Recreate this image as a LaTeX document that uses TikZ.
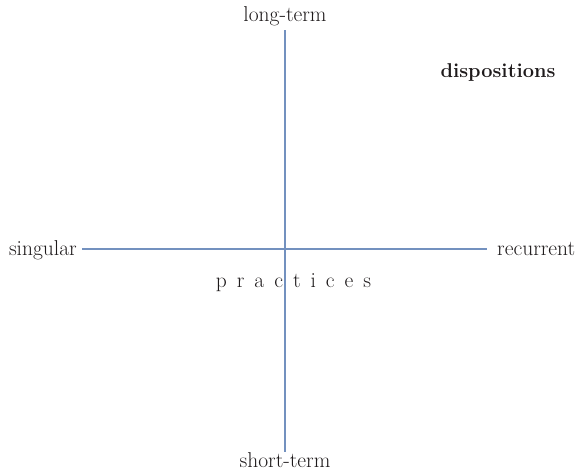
\documentclass[tikz,border=0pt]{standalone}
\definecolor{axisblue}{HTML}{7391BF}
\definecolor{inktext}{HTML}{1E1A1B}
\usepackage{tikz}
\usetikzlibrary{positioning}

\begin{document}
\begin{tikzpicture}[x=1pt, y=-1pt,
				axis/.style={draw=axisblue, line width=1.3pt},
				lbl/.style={text=inktext, inner sep=0pt, font=\fontsize{21.5}{24}\selectfont},
				heading/.style={text=inktext, inner sep=0pt, font=\fontsize{20}{24}\selectfont\bfseries}
			]
			\useasboundingbox (0,0) rectangle (576,475);
			% Axis ends
			\coordinate (top) at (285,30);
			\coordinate (bottom) at (285,452);
			\coordinate (left) at (82,249);
			\coordinate (right) at (487,249);
			% Axes
			\draw[axis] (top) -- (bottom);
			\draw[axis] (left) -- (right);
			% Axis labels
			\node[lbl, anchor=base] (longterm) at (285,21) {long-term};
			\node[lbl, anchor=base] (shortterm) at (285,467) {short-term};
			\node[lbl, anchor=base east] (singular) at (77,255) {singular};
			\node[lbl, anchor=base west] (recurrent) at (497,255) {recurrent};
			% Regions
			\node[heading, anchor=base] (dispositions) at (498,77) {dispositions};
			\node[lbl, anchor=base] (practices) at (293.5,287)
				{p\kern10pt r\kern10pt a\kern10pt c\kern10pt t\kern10pt i\kern10pt c\kern10pt e\kern10pt s};
		\end{tikzpicture}
\end{document}
